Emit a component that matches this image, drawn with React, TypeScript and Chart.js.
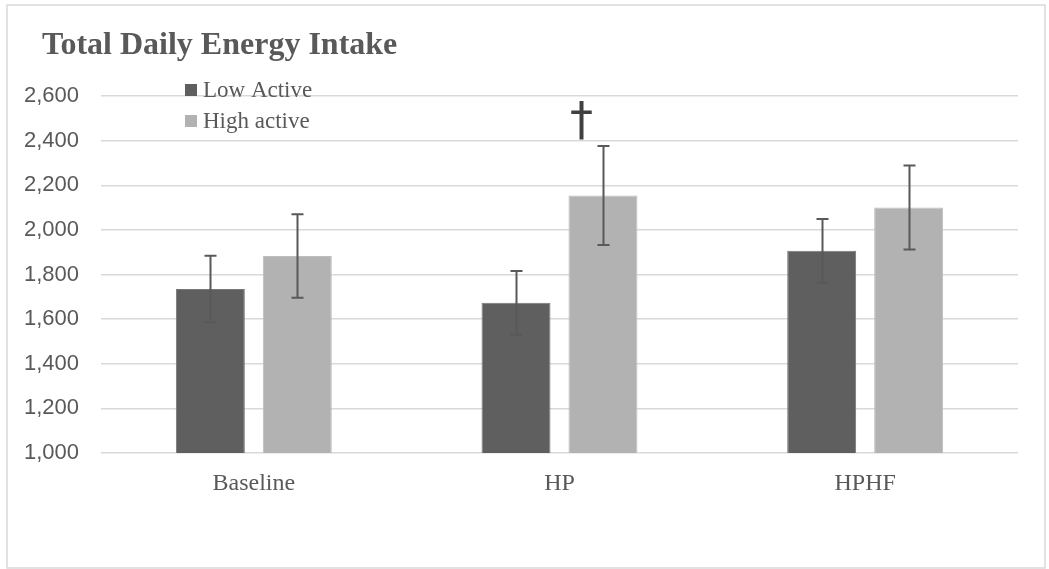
import React, { useEffect, useRef } from "react";
import { Chart, registerables } from "chart.js";

Chart.register(...registerables);

const titleText = "Total Daily Energy Intake";
const categories = ["Baseline", "HP", "HPHF"];
const seriesNames = ["Low Active", "High active"];
const lowActive = [1735, 1673, 1906];
const lowActiveErr = [149, 143, 143];
const highActive = [1883, 2154, 2100];
const highActiveErr = [187, 222, 188];
const daggerCategory = 1;
const daggerValue = 2480;
const yMin = 1000;
const yMax = 2600;
const yStep = 200;

const DARK = "#5f5f5f";
const LIGHT = "#b2b2b2";
const TEXT = "#595959";

const errors = [lowActiveErr, highActiveErr];

const decorPlugin = {
  id: "decor",
  beforeDraw(chart: any) {
    const ctx = chart.ctx;
    ctx.save();
    ctx.fillStyle = "#ffffff";
    ctx.fillRect(0, 0, chart.width, chart.height);
    ctx.restore();
  },
  afterDatasetsDraw(chart: any) {
    const ctx = chart.ctx;
    const y = chart.scales.y;
    ctx.save();
    ctx.strokeStyle = "#595959";
    ctx.lineWidth = 2;
    chart.data.datasets.forEach((ds: any, di: number) => {
      const meta = chart.getDatasetMeta(di);
      meta.data.forEach((bar: any, i: number) => {
        const v = ds.data[i];
        const e = errors[di][i];
        const x = Math.round(bar.x) + 0.5;
        const yt = y.getPixelForValue(v + e);
        const yb = y.getPixelForValue(v - e);
        ctx.beginPath();
        ctx.moveTo(x, yt);
        ctx.lineTo(x, yb);
        ctx.moveTo(x - 6, yt);
        ctx.lineTo(x + 6, yt);
        ctx.moveTo(x - 6, yb);
        ctx.lineTo(x + 6, yb);
        ctx.stroke();
      });
    });
    ctx.restore();
  },
  afterDraw(chart: any) {
    const ctx = chart.ctx;
    const area = chart.chartArea;
    const xs = chart.scales.x;
    const ys = chart.scales.y;
    ctx.save();
    // outer border
    ctx.strokeStyle = "#d9d9d9";
    ctx.lineWidth = 1.5;
    ctx.strokeRect(7, 5, 1038, 563);
    // title
    ctx.fillStyle = TEXT;
    ctx.font = "bold 32px 'Liberation Serif'";
    ctx.textAlign = "left";
    ctx.textBaseline = "alphabetic";
    ctx.fillText(titleText, 42, 54);
    // legend
    const colors = [DARK, LIGHT];
    ctx.font = "23px 'Liberation Serif'";
    ctx.textBaseline = "alphabetic";
    seriesNames.forEach((name, i) => {
      const base = 97 + i * 31;
      const lx = area.left + 84;
      ctx.fillStyle = colors[i];
      ctx.fillRect(lx, base - 13, 12, 12);
      ctx.fillStyle = TEXT;
      ctx.fillText(name, lx + 18, base);
    });
    // dagger
    ctx.fillStyle = "#404040";
    ctx.font = "46px 'DejaVu Sans'";
    ctx.textAlign = "center";
    ctx.textBaseline = "middle";
    const dx = xs.getPixelForValue(daggerCategory) + 22;
    const dy = ys.getPixelForValue(daggerValue);
    ctx.fillText("\u2020", dx, dy);
    ctx.restore();
  },
};

export default function App() {
  const ref = useRef<HTMLCanvasElement | null>(null);
  useEffect(() => {
    if (!ref.current) return;
    const chart = new Chart(ref.current, {
      type: "bar",
      data: {
        labels: categories,
        datasets: [
          {
            label: seriesNames[0],
            data: lowActive,
            backgroundColor: DARK,
            borderColor: "#777777",
            borderWidth: 1,
            categoryPercentage: 0.569,
            barPercentage: 0.793,
          },
          {
            label: seriesNames[1],
            data: highActive,
            backgroundColor: LIGHT,
            borderColor: "#bdbdbd",
            borderWidth: 1,
            categoryPercentage: 0.569,
            barPercentage: 0.793,
          },
        ],
      },
      options: {
        animation: false,
        responsive: false,
        maintainAspectRatio: false,
        layout: { padding: { left: 0, top: 96, right: 31, bottom: 0 } },
        plugins: {
          legend: { display: false },
          title: { display: false },
          tooltip: { enabled: false },
        },
        scales: {
          x: {
            grid: { display: false, drawTicks: false },
            border: { display: false },
            ticks: {
              color: TEXT,
              font: { family: "'Liberation Serif'", size: 24 },
              padding: 16,
            },
            afterFit(scale: any) {
              scale.height = 116;
            },
          },
          y: {
            min: yMin,
            max: yMax,
            grid: { color: "#d9d9d9", lineWidth: 1.5, drawTicks: false },
            border: { display: false },
            ticks: {
              stepSize: yStep,
              color: TEXT,
              font: { family: "'Liberation Sans'", size: 22 },
              padding: 22,
              callback: (v: any) => Number(v).toLocaleString("en-US"),
            },
            afterFit(scale: any) {
              scale.width = 101;
            },
          },
        },
      },
      plugins: [decorPlugin],
    });
    return () => chart.destroy();
  }, []);
  return (
    <div style={{ position: "absolute", left: 0, top: 0, width: 1049, height: 569 }}>
      <canvas ref={ref} width={1049} height={569} style={{ display: "block" }} />
    </div>
  );
}
